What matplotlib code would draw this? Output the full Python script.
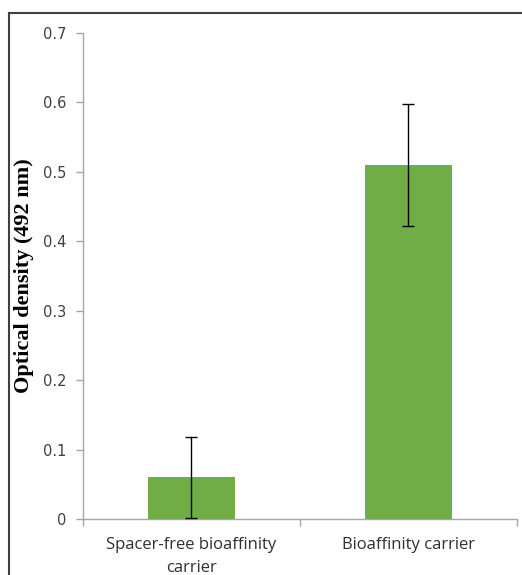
import matplotlib
matplotlib.use("Agg")
import matplotlib.pyplot as plt
from matplotlib.lines import Line2D

# Data
categories = ["Spacer-free bioaffinity\ncarrier", "Bioaffinity carrier"]
values = [0.060, 0.510]
errors = [0.058, 0.088]
yticks = [0, 0.1, 0.2, 0.3, 0.4, 0.5, 0.6, 0.7]
ytick_labels = ["0", "0.1", "0.2", "0.3", "0.4", "0.5", "0.6", "0.7"]

fig = plt.figure(figsize=(5.22, 5.75), dpi=100)
ax = fig.add_axes([0.159, 0.0974, 0.831, 0.8452])

x = list(range(len(categories)))
ax.bar(x, values, width=0.4, color="#70AD47", zorder=2)
ax.errorbar(x, values, yerr=errors, fmt="none", ecolor="black",
            elinewidth=1.0, capsize=4, capthick=1.0, zorder=3)

ax.set_xlim(-0.5, len(categories) - 0.5)
ax.set_ylim(0, 0.7)

# y axis
ax.set_yticks(yticks)
ax.set_yticklabels(ytick_labels, fontsize=10.5, color="#404040", family="DejaVu Sans")
ax.tick_params(axis="y", length=5, width=1, color="#A6A6A6", pad=7)

# x axis: labels at centres, tick marks at category boundaries
ax.set_xticks(x)
ax.set_xticklabels(categories, fontsize=12, color="#303030", family="Open Sans",
                   linespacing=1.55)
ax.tick_params(axis="x", which="major", length=0, pad=13)
ax.set_xticks([-0.5, 0.5, 1.5], minor=True)
ax.tick_params(axis="x", which="minor", length=5, width=1, color="#A6A6A6")

for side in ["top", "right"]:
    ax.spines[side].set_visible(False)
for side in ["left", "bottom"]:
    ax.spines[side].set_color("#A6A6A6")
    ax.spines[side].set_linewidth(1)

ax.set_ylabel("Optical density (492 nm)", fontsize=16, fontweight="bold",
              family="Liberation Serif", color="black")
ax.yaxis.set_label_coords(-0.113, 0.5)

# outer frame (top and left only)
frame_col = "#404040"
fig.add_artist(Line2D([0.0172, 1.0], [0.977, 0.977], transform=fig.transFigure,
                      color=frame_col, linewidth=1.5))
fig.add_artist(Line2D([0.0172, 0.0172], [0.0, 0.977], transform=fig.transFigure,
                      color=frame_col, linewidth=1.5))

fig.savefig("out.png", dpi=100)
